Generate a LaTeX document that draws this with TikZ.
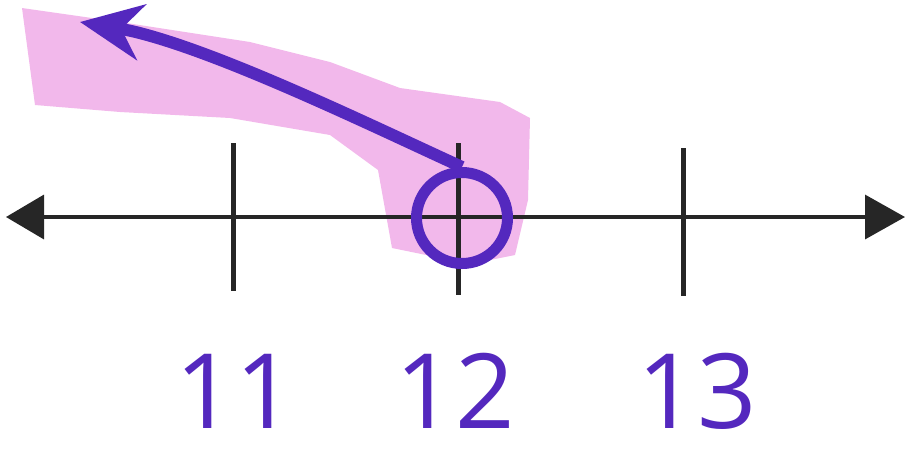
\documentclass[tikz,border=0pt]{standalone}
\usepackage{fontspec}
\setmainfont{Open Sans}
\usepackage{tikz}
\usetikzlibrary{arrows.meta, positioning}

\definecolor{pen}{RGB}{84,40,190}
\definecolor{marker}{RGB}{238,160,228}

\tikzset{
  tickmark/.style={line width=5pt, black!85},
  numlabel/.style={text=pen, font=\fontsize{104}{104}\selectfont, inner sep=0pt,
    text depth=0pt, anchor=base},
  axisline/.style={line width=3.5pt, black!85, {Triangle[length=38pt,width=44pt]}-{Triangle[length=40pt,width=44pt]}}
}

\begin{document}
\begin{tikzpicture}[x=1pt, y=-1pt]
    \useasboundingbox (0,0) rectangle (907,459);

        % highlighter
        \fill[marker, opacity=0.75] (22,8) -- (120,22) -- (250,42) -- (330,62) -- (400,88)
            -- (500,102) -- (530,118) -- (528,200) -- (515,255) -- (470,264) -- (392,248)
            -- (378,170) -- (330,135) -- (230,118) -- (120,112) -- (35,105) -- cycle;

        \coordinate (lend) at (6,217);
        \coordinate (rend) at (905,217);
        \draw[axisline] (lend) -- (rend);

        \coordinate (t11) at (233,143);
        \coordinate (t12) at (458,143);
        \coordinate (t13) at (683,148);
        \coordinate (b11) at (233,291);
        \coordinate (b12) at (458,295);
        \coordinate (b13) at (683,296);
        \draw[tickmark] (t11) -- (b11);
        \draw[tickmark] (t12) -- (b12);
        \draw[tickmark] (t13) -- (b13);

        \node[numlabel] (n11) at (235,428) {11};
        \node[numlabel] (n12) at (455,428) {12};
        \node[numlabel] (n13) at (697,428) {13};

        \node[circle, draw=pen, line width=11pt, minimum size=91pt, inner sep=0pt] (open) at (462,218) {};

        \coordinate (tip) at (80,22);
        \draw[pen, line width=12pt, -{Stealth[length=62pt, width=56pt]}]
            (open.north) .. controls (370,125) and (200,42) .. (tip);

    \end{tikzpicture}
\end{document}
